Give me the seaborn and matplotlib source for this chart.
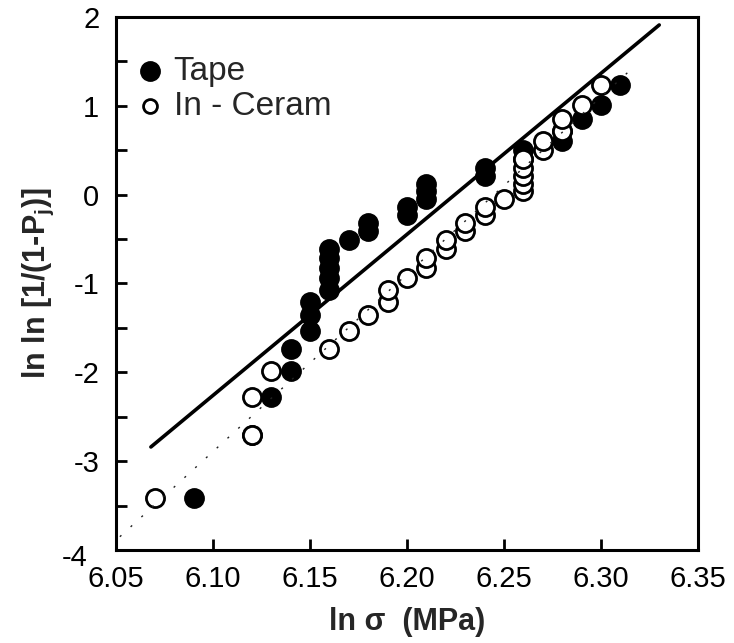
import seaborn as sns
import matplotlib.pyplot as plt
import matplotlib.transforms as mtransforms
import pandas as pd

# Weibull plot data
tape_x = [6.09, 6.12, 6.13, 6.14, 6.14, 6.15, 6.15, 6.15, 6.16, 6.16,
          6.16, 6.16, 6.16, 6.17, 6.18, 6.18, 6.20, 6.20, 6.21, 6.21,
          6.21, 6.24, 6.24, 6.26, 6.26, 6.28, 6.28, 6.29, 6.30, 6.31]
tape_y = [-3.42, -2.71, -2.28, -1.98, -1.74, -1.54, -1.36, -1.21, -1.07, -0.94,
          -0.83, -0.71, -0.61, -0.51, -0.41, -0.32, -0.23, -0.14, -0.05, 0.04,
          0.12, 0.21, 0.30, 0.40, 0.50, 0.60, 0.72, 0.85, 1.01, 1.23]

ceram_x = [6.07, 6.12, 6.12, 6.13, 6.16, 6.17, 6.18, 6.19, 6.19, 6.20,
           6.21, 6.21, 6.22, 6.22, 6.23, 6.23, 6.24, 6.24, 6.25, 6.26,
           6.26, 6.26, 6.26, 6.26, 6.27, 6.27, 6.28, 6.28, 6.29, 6.30]
ceram_y = [-3.42, -2.71, -2.28, -1.98, -1.74, -1.54, -1.36, -1.21, -1.07, -0.94,
           -0.83, -0.71, -0.61, -0.51, -0.41, -0.32, -0.23, -0.14, -0.05, 0.04,
           0.12, 0.21, 0.30, 0.40, 0.50, 0.60, 0.72, 0.85, 1.01, 1.23]

# fitted lines (end points)
tape_fit_x = [6.068, 6.330]
tape_fit_y = [-2.84, 1.91]
ceram_fit_x = [6.052, 6.315]
ceram_fit_y = [-3.85, 1.40]

x_ticks = [6.05, 6.10, 6.15, 6.20, 6.25, 6.30, 6.35]
y_ticks = [-4, -3, -2, -1, 0, 1, 2]

df_tape = pd.DataFrame({'x': tape_x, 'y': tape_y})
df_ceram = pd.DataFrame({'x': ceram_x, 'y': ceram_y})

sns.set_style("ticks")
plt.rcParams['font.family'] = ['Liberation Sans', 'DejaVu Sans']
plt.rcParams['axes.unicode_minus'] = False

fig = plt.figure(figsize=(7.34, 6.43), dpi=100)
ax = fig.add_axes([0.158, 0.1446, 0.793, 0.829])

sns.lineplot(x=tape_fit_x, y=tape_fit_y, color='black', linewidth=2.6, ax=ax, zorder=2)
sns.scatterplot(data=df_tape, x='x', y='y', color='black', edgecolor='black',
                s=190, linewidth=1.2, ax=ax, label='Tape', zorder=3)
sns.scatterplot(data=df_ceram, x='x', y='y', color='white', edgecolor='black',
                s=170, linewidth=2.0, ax=ax, label='In - Ceram', zorder=4)
sns.lineplot(x=ceram_fit_x, y=ceram_fit_y, color='#222222', linewidth=1.0,
             linestyle=(0, (1.5, 9)), ax=ax, zorder=5)

ax.set_xlim(6.05, 6.35)
ax.set_ylim(-4, 2)
ax.set_xticks(x_ticks)
ax.set_xticklabels([f'{v:.2f}' for v in x_ticks])
ax.set_yticks(y_ticks)
ax.set_yticks([-3.5, -2.5, -1.5, -0.5, 0.5, 1.5], minor=True)
ax.tick_params(axis='both', which='both', direction='in', length=8, width=2,
               labelsize=21, colors='black')
ax.tick_params(axis='x', pad=11)
ax.tick_params(axis='y', pad=12)

# the -4 label sits a bit lower and further left in the original
for lab in ax.get_yticklabels():
    if lab.get_text() == '-4':
        lab.set_transform(lab.get_transform() +
                          mtransforms.ScaledTranslation(-0.12, -0.05, fig.dpi_scale_trans))

for side in ['top', 'right', 'left', 'bottom']:
    ax.spines[side].set_visible(True)
    ax.spines[side].set_linewidth(2.2)
    ax.spines[side].set_color('black')

ax.set_xlabel('ln σ  (MPa)', fontsize=22, fontweight='bold', labelpad=10)
ax.set_ylabel(r'ln ln [1/(1-P$_\mathregular{j}$)]', fontsize=22, fontweight='bold', labelpad=4)

leg = ax.legend(loc='upper left', bbox_to_anchor=(-0.004, 0.965), frameon=False,
                fontsize=24, handlelength=1.0, handletextpad=0.2, labelspacing=0.12,
                borderaxespad=0.2)
leg.legend_handles[1].set_sizes([100])

plt.savefig('out.png', dpi=100, facecolor='white')
